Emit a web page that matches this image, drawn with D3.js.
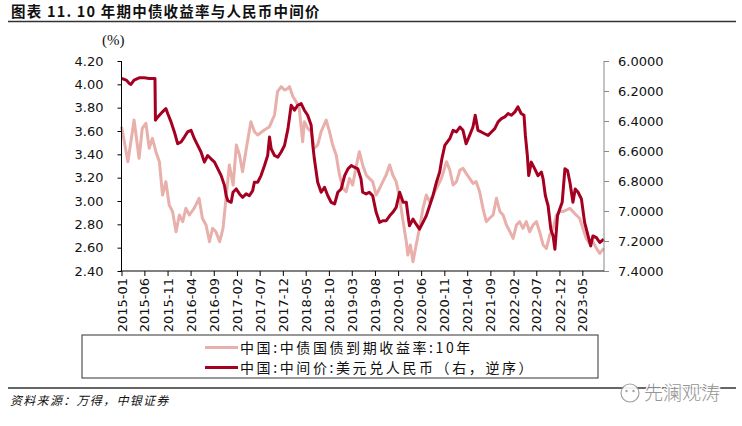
<!DOCTYPE html>
<html><head><meta charset="utf-8">
<script src="https://cdn.jsdelivr.net/npm/d3@7"></script>
<style>
body{margin:0;background:#fff;}
svg{display:block;}
</style></head>
<body><svg id="c" width="742" height="426"></svg>
<script>
// ---- data ----
const titleText = "图表 11. 10 年期中债收益率与人民币中间价";
const unitLabel = "(%)";
const legendYield = "中国:中债国债到期收益率:10年";
const legendFx = "中国:中间价:美元兑人民币（右，逆序）";
const sourceText = "资料来源：万得，中银证券";
const watermarkText = "先澜观涛";

const xTickLabels = ["2015-01","2015-06","2015-11","2016-04","2016-09","2017-02","2017-07","2017-12",
  "2018-05","2018-10","2019-03","2019-08","2020-01","2020-06","2020-11","2021-04","2021-09",
  "2022-02","2022-07","2022-12","2023-05"];
const leftTicks = [2.40,2.60,2.80,3.00,3.20,3.40,3.60,3.80,4.00,4.20];
const rightTicks = [6.0,6.2,6.4,6.6,6.8,7.0,7.2,7.4];
const xDomain = ["2015-01-01","2023-09-21"];

const yieldDates = ["2015-01-01","2015-01-20","2015-02-12","2015-03-04","2015-03-25","2015-04-07","2015-04-27","2015-05-18","2015-06-11","2015-07-03",
"2015-07-24","2015-08-16","2015-09-08","2015-09-29","2015-10-21","2015-11-12","2015-12-04","2015-12-27","2016-01-18","2016-02-09",
"2016-03-01","2016-03-24","2016-04-24","2016-05-27","2016-06-18","2016-07-12","2016-08-04","2016-08-24","2016-09-15","2016-10-10",
"2016-11-01","2016-11-21","2016-12-13","2017-01-07","2017-01-28","2017-02-18","2017-03-10","2017-04-04","2017-05-04","2017-05-28",
"2017-06-18","2017-08-01","2017-09-04","2017-10-07","2017-10-27","2017-11-20","2017-12-12","2018-01-04","2018-01-14","2018-02-06",
"2018-02-27","2018-03-19","2018-04-11","2018-04-22","2018-05-14","2018-06-06","2018-06-27","2018-07-19","2018-08-11","2018-09-13",
"2018-10-05","2018-10-26","2018-11-18","2018-12-10","2019-01-02","2019-01-23","2019-02-14","2019-03-07","2019-03-28","2019-04-20",
"2019-05-12","2019-06-04","2019-06-25","2019-07-17","2019-08-09","2019-09-01","2019-09-22","2019-10-14","2019-11-06","2019-11-27",
"2019-12-19","2020-01-11","2020-02-03","2020-02-24","2020-03-05","2020-03-22","2020-04-08","2020-04-29","2020-05-21","2020-06-13",
"2020-07-05","2020-07-27","2020-08-18","2020-09-10","2020-10-13","2020-11-15","2020-12-07","2020-12-29","2021-01-20","2021-02-12",
"2021-03-04","2021-03-25","2021-04-17","2021-05-09","2021-05-30","2021-06-22","2021-07-14","2021-08-05","2021-08-27","2021-09-19",
"2021-10-11","2021-11-03","2021-11-24","2021-12-16","2022-01-08","2022-01-29","2022-02-20","2022-03-13","2022-04-04","2022-04-26",
"2022-05-18","2022-06-10","2022-07-02","2022-07-23","2022-08-15","2022-09-06","2022-09-28","2022-10-20","2022-11-11","2022-12-03",
"2022-12-25","2023-01-16","2023-02-08","2023-02-28","2023-03-21","2023-04-13","2023-05-05","2023-05-26","2023-06-18","2023-07-10",
"2023-08-02","2023-08-24","2023-09-20"];
const yieldValues = [3.637,3.508,3.337,3.508,3.694,3.566,3.366,3.623,3.666,3.452,
3.537,3.423,3.337,3.051,3.166,2.966,2.909,2.737,2.880,2.823,
2.937,2.880,2.937,3.023,2.852,2.794,2.651,2.766,2.737,2.651,
2.766,3.023,3.309,3.137,3.480,3.394,3.251,3.452,3.680,3.594,
3.566,3.609,3.637,3.737,3.937,3.980,3.951,3.966,3.980,3.894,
3.851,3.794,3.508,3.680,3.623,3.594,3.452,3.480,3.594,3.694,
3.594,3.480,3.394,3.223,3.109,3.080,3.194,3.137,3.280,3.423,
3.309,3.223,3.194,3.166,3.051,3.109,3.166,3.223,3.309,3.223,
3.166,3.023,2.823,2.651,2.537,2.623,2.480,2.623,2.766,2.937,
3.051,2.994,3.051,3.109,3.194,3.337,3.266,3.137,3.166,3.266,
3.280,3.237,3.194,3.151,3.166,3.080,2.937,2.823,2.852,2.880,
3.023,2.909,2.880,2.794,2.737,2.680,2.794,2.823,2.766,2.823,
2.737,2.794,2.823,2.737,2.623,2.594,2.709,2.766,2.880,2.909,
2.909,2.923,2.937,2.909,2.880,2.852,2.766,2.680,2.637,2.651,
2.594,2.551,2.594];

const fxDates = ["2015-01-01","2015-02-01","2015-02-22","2015-03-04","2015-03-25","2015-04-28","2015-05-31","2015-07-03","2015-07-24","2015-08-10",
"2015-08-13","2015-08-20","2015-09-08","2015-09-29","2015-10-21","2015-11-02","2015-11-24","2015-12-16","2016-01-07","2016-01-29",
"2016-02-20","2016-03-12","2016-04-04","2016-04-26","2016-05-18","2016-06-09","2016-07-01","2016-07-23","2016-08-14","2016-09-06",
"2016-09-28","2016-10-20","2016-11-11","2016-11-22","2016-12-03","2016-12-25","2017-01-06","2017-01-27","2017-02-18","2017-03-10",
"2017-04-03","2017-04-24","2017-05-16","2017-05-27","2017-06-18","2017-07-10","2017-08-02","2017-08-23","2017-09-04","2017-09-15",
"2017-10-07","2017-10-29","2017-11-20","2017-12-12","2018-01-04","2018-01-25","2018-02-16","2018-03-09","2018-04-01","2018-04-22",
"2018-05-14","2018-06-06","2018-06-17","2018-06-27","2018-07-19","2018-08-11","2018-09-02","2018-09-24","2018-10-16","2018-11-08",
"2018-11-29","2018-12-21","2019-01-13","2019-02-04","2019-02-26","2019-03-18","2019-04-10","2019-05-01","2019-05-12","2019-06-04",
"2019-06-25","2019-07-17","2019-08-09","2019-09-01","2019-09-22","2019-10-14","2019-11-06","2019-11-27","2019-12-19","2020-01-11",
"2020-02-03","2020-02-24","2020-03-05","2020-03-16","2020-04-08","2020-04-29","2020-05-21","2020-06-13","2020-07-05","2020-07-27",
"2020-08-18","2020-09-10","2020-10-01","2020-10-16","2020-11-04","2020-12-07","2020-12-29","2021-01-20","2021-02-12","2021-03-04",
"2021-03-25","2021-04-17","2021-05-09","2021-05-24","2021-06-11","2021-07-03","2021-07-25","2021-08-17","2021-09-08","2021-09-30",
"2021-10-22","2021-11-13","2021-12-05","2021-12-27","2022-01-18","2022-02-10","2022-03-02","2022-03-23","2022-04-11","2022-04-20",
"2022-05-03","2022-05-12","2022-05-29","2022-06-21","2022-07-12","2022-08-04","2022-08-15","2022-08-30","2022-09-17","2022-10-05",
"2022-10-20","2022-11-01","2022-11-18","2022-12-03","2022-12-19","2023-01-06","2023-01-23","2023-02-08","2023-02-28","2023-03-15",
"2023-04-03","2023-04-25","2023-05-16","2023-06-08","2023-06-25","2023-07-10","2023-08-02","2023-08-24","2023-09-20"];
const fxValues = [6.116,6.127,6.150,6.156,6.127,6.112,6.112,6.116,6.116,6.116,
6.395,6.384,6.362,6.339,6.317,6.350,6.406,6.473,6.552,6.540,
6.507,6.473,6.462,6.518,6.563,6.607,6.674,6.630,6.652,6.674,
6.719,6.764,6.831,6.898,6.931,6.942,6.875,6.853,6.886,6.909,
6.886,6.898,6.864,6.808,6.808,6.764,6.697,6.630,6.507,6.585,
6.630,6.641,6.607,6.563,6.451,6.295,6.328,6.295,6.284,6.328,
6.362,6.429,6.563,6.652,6.808,6.875,6.842,6.898,6.942,6.953,
6.875,6.853,6.764,6.719,6.697,6.708,6.719,6.786,6.875,6.886,
6.875,6.898,7.009,7.076,7.065,7.065,7.032,7.009,6.976,6.875,
6.942,6.942,7.020,7.099,7.054,7.088,7.121,7.076,7.032,6.965,
6.898,6.808,6.741,6.652,6.563,6.518,6.462,6.473,6.440,6.462,
6.552,6.496,6.440,6.362,6.462,6.473,6.485,6.496,6.473,6.451,
6.406,6.384,6.373,6.350,6.362,6.339,6.306,6.350,6.362,6.496,
6.630,6.764,6.674,6.719,6.764,6.741,6.786,6.898,6.965,7.121,
7.166,7.255,7.032,6.987,6.942,6.719,6.730,6.808,6.942,6.853,
6.875,6.920,7.076,7.166,7.233,7.166,7.177,7.210,7.188];

// ---- drawing ----
const svg = d3.select("#c");
const parse = d3.timeParse("%Y-%m-%d");
const parseM = d3.timeParse("%Y-%m");
const cjk = "'Noto Sans CJK SC', 'Noto Sans', sans-serif";
const num = "'DejaVu Sans', sans-serif";

const L = 121.5, R = 604, T = 61, B = 271;
const x = d3.scaleTime().domain(xDomain.map(parse)).range([L, R]);
const yL = d3.scaleLinear().domain([2.4, 4.2]).range([B, T]);
const yR = d3.scaleLinear().domain([6.0, 7.4]).range([T, B]);

// title
svg.append("text").attr("x", 11).attr("y", 17)
  .attr("font-family", cjk).attr("font-weight", "bold").attr("font-size", 14.5)
  .attr("letter-spacing", 1.2).attr("fill", "#111").text(titleText);
svg.append("line").attr("x1", 8).attr("x2", 736).attr("y1", 21.5).attr("y2", 21.5)
  .attr("stroke", "#333").attr("stroke-width", 1.3);

svg.append("text").attr("x", 102).attr("y", 45)
  .attr("font-family", "'Liberation Serif', serif").attr("font-size", 15)
  .attr("fill", "#111").text(unitLabel);

// lines
const yieldData = yieldDates.map((d, i) => ({ d: parse(d), v: yieldValues[i] }));
const fxData = fxDates.map((d, i) => ({ d: parse(d), v: fxValues[i] }));

svg.append("path").datum(yieldData)
  .attr("fill", "none").attr("stroke", "#E8AFAB").attr("stroke-width", 3)
  .attr("stroke-linejoin", "round")
  .attr("d", d3.line().x(p => x(p.d)).y(p => yL(p.v)));
svg.append("path").datum(fxData)
  .attr("fill", "none").attr("stroke", "#A50021").attr("stroke-width", 3)
  .attr("stroke-linejoin", "round")
  .attr("d", d3.line().x(p => x(p.d)).y(p => yR(p.v)));

// left axis
const gL = svg.append("g").attr("transform", `translate(${L},0)`)
  .call(d3.axisLeft(yL).tickValues(leftTicks).tickFormat(d3.format(".2f")).tickSize(4).tickPadding(14));
gL.select(".domain").attr("stroke", "#000").attr("d", `M0,${T}V${B}`);
gL.selectAll(".tick line").attr("stroke", "#000");
gL.selectAll("text").attr("font-family", num).attr("font-size", 13).attr("fill", "#111");

// right axis
const gR = svg.append("g").attr("transform", `translate(${R},0)`)
  .call(d3.axisRight(yR).tickValues(rightTicks).tickFormat(d3.format(".4f")).tickSize(5).tickPadding(9));
gR.select(".domain").attr("stroke", "#888").attr("d", `M0,${T}V${B}`);
gR.selectAll(".tick line").attr("stroke", "#888");
gR.selectAll("text").attr("font-family", num).attr("font-size", 13).attr("fill", "#111");

// bottom axis
const gB = svg.append("g").attr("transform", `translate(0,${B})`)
  .call(d3.axisBottom(x).tickValues(xTickLabels.map(parseM)).tickFormat(d3.timeFormat("%Y-%m")).tickSize(5).tickPadding(2));
gB.select(".domain").attr("stroke", "#000").attr("d", `M${L - 1},0H${R}`);
gB.selectAll(".tick line").attr("stroke", "#000");
gB.selectAll("text").attr("font-family", num).attr("font-size", 13).attr("fill", "#111")
  .attr("text-anchor", "end").attr("transform", "rotate(-90)")
  .attr("x", -7).attr("y", 0).attr("dy", "0.35em");

// legend box
svg.append("rect").attr("x", 82).attr("y", 335).attr("width", 516).attr("height", 43)
  .attr("fill", "none").attr("stroke", "#333").attr("stroke-width", 1);
const leg = [
  { t: legendYield, c: "#E8AFAB", y: 347.5 },
  { t: legendFx, c: "#A50021", y: 367.5 }
];
leg.forEach(o => {
  svg.append("line").attr("x1", 205).attr("x2", 238).attr("y1", o.y).attr("y2", o.y)
    .attr("stroke", o.c).attr("stroke-width", 3);
  svg.append("text").attr("x", 240).attr("y", o.y).attr("dy", "0.36em")
    .attr("font-family", cjk).attr("font-size", 14).attr("letter-spacing", 2.6)
    .attr("fill", "#111").text(o.t);
});

// source
svg.append("line").attr("x1", 8).attr("x2", 736).attr("y1", 388).attr("y2", 388)
  .attr("stroke", "#333").attr("stroke-width", 1.3);
svg.append("text").attr("x", 10).attr("y", 405)
  .attr("font-family", cjk).attr("font-size", 12).attr("font-style", "italic")
  .attr("letter-spacing", 1.3).attr("fill", "#111").text(sourceText);

// watermark
const wm = svg.append("g").attr("opacity", 0.9);
wm.append("circle").attr("cx", 630).attr("cy", 393).attr("r", 9)
  .attr("fill", "#fff").attr("stroke", "#999").attr("stroke-width", 1.2);
wm.append("circle").attr("cx", 626.5).attr("cy", 391).attr("r", 1.2).attr("fill", "#999");
wm.append("circle").attr("cx", 633.5).attr("cy", 391).attr("r", 1.2).attr("fill", "#999");
wm.append("text").attr("x", 644).attr("y", 400)
  .attr("font-family", cjk).attr("font-size", 19).attr("font-weight", 300)
  .attr("fill", "#8a8a8a").attr("stroke", "#fff").attr("stroke-width", 3)
  .attr("paint-order", "stroke").text(watermarkText);
</script>
</body></html>
